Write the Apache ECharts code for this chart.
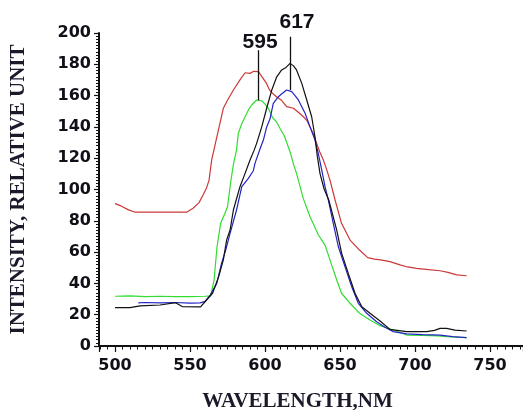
<!DOCTYPE html>
<html><head><meta charset="utf-8">
<script src="https://cdn.jsdelivr.net/npm/echarts@6/dist/echarts.min.js"></script>
<style>html,body{margin:0;padding:0;background:#fff}#c{width:523px;height:410px}</style>
</head><body><div id="c"></div>
<script>
// [wavelength nm, intensity]
const redData = [[500,91],[504,89.5],[509,87],[513,85.6],[530,85.6],[548,85.6],[552,88],[556,91.6],[558.7,96.5],[561,101],[562.7,106],[564.4,118.8],[568.9,138],[572.2,151.9],[575,157],[578.9,163.6],[583.3,170],[586.7,174.6],[590,174.2],[592.5,175.5],[595.6,175.3],[598,172],[601,167.8],[603,163.6],[605.5,161],[608,159],[611,157],[614.4,153],[618.9,151.9],[622,149.5],[625.6,146.5],[628,144],[630,140],[632.5,135],[634.4,129.5],[636.5,124],[638.9,118.8],[641,113],[643.3,106],[646.7,93.3],[651,78.4],[656.7,67.7],[663,61.3],[668.5,56.5],[673,55.5],[677,55],[683.3,53.9],[690,51.8],[695,50.5],[701,49.6],[709,48.8],[716.7,48.1],[722,47],[727.8,45.4],[734.4,44.9]];
const greenData = [[500,31.8],[510,32],[520,31.6],[530,31.8],[540,31.5],[550,31.6],[560,31.8],[563.7,32],[566,42],[568,63.4],[570.4,78.4],[573.3,84.8],[575,89],[577,104],[578.9,116],[581,125.2],[582.2,135.9],[584.5,142],[586.7,146.5],[589,151],[591.1,154],[594.4,157.2],[597.8,156.7],[600,154.5],[602.2,151.9],[605,146],[607.8,143],[610,139],[613,134],[616.7,124],[619,116],[621,110.3],[622.2,106],[625.6,94],[630,82.6],[635.6,70.9],[640,64.5],[643.3,55],[647.8,42.2],[651,33.7],[656.7,27.3],[663,20.9],[670,16.6],[676.7,13],[685.5,10.2],[694.4,7],[705,6.8],[715,6.5],[721,5.9],[728,5.6],[734.4,5.3]];
const blueData = [[515.5,27.6],[520,27.8],[530,27.5],[540,27.8],[550,27.4],[556.7,27.6],[560,28.5],[563.5,32.5],[567.8,40],[571,52.8],[574,62],[576.7,72],[581,86.9],[584.5,101.8],[588.9,107.1],[592.2,112],[593.3,116.7],[596.7,126],[598.9,131.6],[601.1,140],[603.3,145],[605.5,155],[608.9,159.3],[611,161],[614.4,163.6],[617.8,162.5],[620,160],[622.2,157.2],[626.7,148.7],[630,140],[633.3,131.6],[635.5,123.1],[637.8,112.5],[640,101.8],[642.2,93.3],[645.5,78.4],[648.9,63.4],[653.3,50.7],[657.8,37.9],[662.2,27.3],[667.8,20.9],[674.4,15.5],[680,12],[685.5,9.2],[694.4,7.7],[705,7.3],[716.7,7],[725,6],[734.4,5.3]];
const blackData = [[500,24.5],[510,24.5],[516.7,25.6],[530,26.2],[540.4,27.7],[544.7,25.2],[557,25],[561,29.4],[565,33.7],[569,44],[572.2,55],[574.4,67.7],[576.7,74.1],[578.9,86.9],[583.3,101.8],[586.7,110.3],[590,118.8],[592.7,125],[594.4,129.5],[597.8,140],[601.1,151.9],[604.5,163.6],[607.8,172],[611.1,176.4],[614,178],[616.7,180.6],[619,179],[621,176.4],[624.5,167.8],[627.8,157.2],[631.1,146.5],[633.3,133.7],[634.9,121],[636.7,110],[639.5,100],[642.5,93.3],[647.8,74.1],[651.1,59.2],[655.5,46.4],[660,33.7],[664.5,25.1],[670,20.9],[676.7,16],[683.3,10.6],[694.4,9.2],[707.8,9.2],[713,10],[716.7,11.3],[721,11.3],[726.7,10.2],[734.4,9.6]];
// peak annotations
const peakNames = ['595', '617'];
const peakLineX = [595.5, 617];
const peakLineTop = [189, 197.6];
const peakLineBottom = [157, 163.6];
const peakTextPos = [[596.7, 193.8], [621.3, 207.2]];
const yTicks = [0, 20, 40, 60, 80, 100, 120, 140, 160, 180, 200];
const xTicks = [500, 550, 600, 650, 700, 750];

const chart = echarts.init(document.getElementById('c'), null, {renderer: 'canvas'});
const lineS = (name, data, color) => ({
  name, type: 'line', data, showSymbol: false, symbol: 'none',
  lineStyle: {color, width: 1.2}, itemStyle: {color}, animation: false, z: 3
});
const peakLines = peakNames.map((n, i) => [
  {coord: [peakLineX[i], peakLineTop[i]]},
  {coord: [peakLineX[i], peakLineBottom[i]]}
]);
chart.setOption({
  animation: false,
  backgroundColor: '#fff',
  grid: {left: 99, top: 33, right: 0, bottom: 64, containLabel: false, outerBoundsMode: 'none'},
  xAxis: {
    type: 'value', min: 489.3, max: 772, splitNumber: 5,
    axisLine: {show: true, onZero: false, lineStyle: {color: '#111', width: 2}},
    axisTick: {show: true, length: 6, lineStyle: {color: '#111', width: 1.2}},
    minorTick: {show: true, splitNumber: 10, length: 3.5, lineStyle: {color: '#111', width: 1}},
    splitLine: {show: false},
    axisLabel: {
      showMinLabel: false, showMaxLabel: false, margin: 12,
      fontFamily: 'DejaVu Sans', fontWeight: 'bold', fontSize: 16, color: '#101018',
      formatter: v => xTicks.includes(v) ? String(v) : ''
    },
    name: 'WAVELENGTH,NM', nameLocation: 'middle', nameGap: 45,
    nameTextStyle: {fontFamily: 'Liberation Serif', fontWeight: 'bold', fontSize: 21, color: '#1a1a2a', padding: [0, 27, 0, 0]}
  },
  yAxis: {
    type: 'value', min: 0, max: 200, interval: 20,
    axisLine: {show: true, lineStyle: {color: '#111', width: 2}},
    axisTick: {show: true, length: 5, lineStyle: {color: '#111', width: 1.2}},
    minorTick: {show: true, splitNumber: 10, length: 3, lineStyle: {color: '#111', width: 1}},
    splitLine: {show: false},
    axisLabel: {
      margin: 8, fontFamily: 'DejaVu Sans', fontWeight: 'bold', fontSize: 16, color: '#101018',
      formatter: v => yTicks.includes(v) ? String(v) : ''
    },
    name: 'INTENSITY, RELATIVE UNIT', nameLocation: 'middle', nameGap: 70, nameRotate: 90,
    nameTextStyle: {fontFamily: 'Liberation Serif', fontWeight: 'bold', fontSize: 21, color: '#1a1a2a'}
  },
  series: [
    lineS('red', redData, '#cc3838'),
    lineS('green', greenData, '#30dd30'),
    Object.assign(lineS('blue', blueData, '#2424c4'), {
      markLine: {
        silent: true, symbol: ['none', 'none'], animation: false,
        label: {show: false},
        lineStyle: {color: '#111', width: 1.3, type: 'solid'},
        data: peakLines
      }
    }),
    lineS('black', blackData, '#111111'),
    {
      type: 'scatter', clip: false, symbolSize: 0, silent: true, z: 5,
      itemStyle: {opacity: 1, color: '#000'},
      data: peakTextPos.map((p, i) => ({value: p, name: peakNames[i]})),
      label: {show: true, position: 'inside', formatter: p => p.name,
        fontFamily: 'Liberation Sans', fontWeight: 'bold', fontSize: 21, color: '#101018', opacity: 1}
    }
  ]
});
</script></body></html>
